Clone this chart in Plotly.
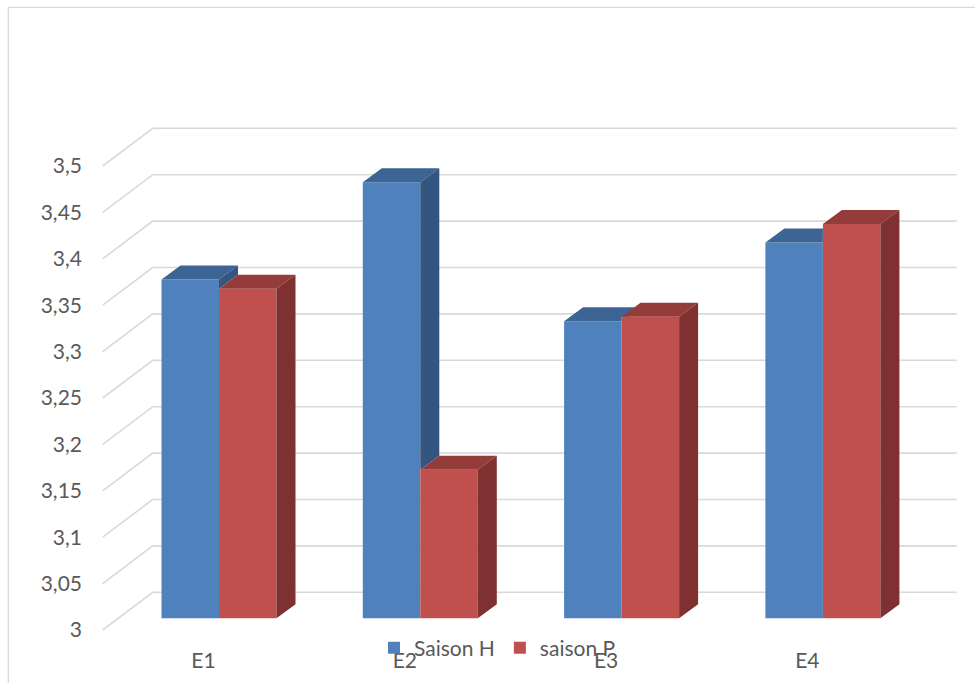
import plotly.graph_objects as go

# ---- data -------------------------------------------------------------
categories = ["E1", "E2", "E3", "E4"]
saison_h = [3.365, 3.47, 3.32, 3.405]
saison_p = [3.355, 3.16, 3.325, 3.425]
series_names = ["Saison H", "saison P"]
tick_values = [3.0, 3.05, 3.1, 3.15, 3.2, 3.25, 3.3, 3.35, 3.4, 3.45, 3.5]
tick_labels = ["3", "3,05", "3,1", "3,15", "3,2", "3,25", "3,3", "3,35", "3,4", "3,45", "3,5"]
AXIS_MIN = 3.0

# ---- geometry of the oblique 3-D view (pixels) ------------------------
W, H = 975, 683
CAT_PX = 201.3          # distance between category groups
CAT0_PX = 219.0         # x of first group centre on the bar plane
Y_PX = 928.0            # pixels per value unit
BASE_PX = 618.3         # y of the axis minimum on the bar plane
BAR_W_PX = 57.5
DEPTH_DX, DEPTH_DY = 19.0, 14.0       # bar thickness (oblique offset)
FRONT_X, FRONT_Y = 102.7, 630.0       # front edge of the floor at the minimum
BACK_X, BACK_Y = 152.7, 592.3         # back wall at the minimum
GRID_END_X = 956.7
LABEL_SHIFT_PX = -15.5                # category labels sit on the front plane

x_rng = [-CAT0_PX / CAT_PX, (W - CAT0_PX) / CAT_PX]
y_lo = AXIS_MIN - (H - BASE_PX) / Y_PX
y_rng = [y_lo, y_lo + H / Y_PX]


def px_to_x(px):
    return (px - CAT0_PX) / CAT_PX


w = BAR_W_PX / CAT_PX
ddx = DEPTH_DX / CAT_PX
ddy = DEPTH_DY / Y_PX
front_dv = (FRONT_Y - BASE_PX) / Y_PX     # front plane sits lower
back_dv = (BASE_PX - BACK_Y) / Y_PX       # back wall sits higher

BLUE, BLUE_TOP, BLUE_SIDE = "#4F81BD", "#3C6494", "#34557F"
RED, RED_TOP, RED_SIDE = "#C0504D", "#943C3A", "#7E3130"
GRID = "#D9D9D9"
TXT = "#595959"

fig = go.Figure()

# front faces
fig.add_trace(go.Bar(x=list(range(len(categories))), y=[v - AXIS_MIN for v in saison_h],
                     base=AXIS_MIN, offset=-w, width=w, name=series_names[0],
                     marker=dict(color=BLUE, line=dict(width=0)),
                     customdata=categories, hovertemplate="%{customdata}: %{base}+%{y}<extra></extra>"))
fig.add_trace(go.Bar(x=list(range(len(categories))), y=[v - AXIS_MIN for v in saison_p],
                     base=AXIS_MIN, offset=0, width=w, name=series_names[1],
                     marker=dict(color=RED, line=dict(width=0)),
                     customdata=categories, hovertemplate="%{customdata}: %{base}+%{y}<extra></extra>"))

# top and side faces, clipped where the neighbouring bar hides them
bt_x, bt_y, bs_x, bs_y = [], [], [], []
rt_x, rt_y, rs_x, rs_y = [], [], [], []
for i, (vb, vr) in enumerate(zip(saison_h, saison_p)):
    xl, xm, xr = i - w, i, i + w
    c = min(max(vr, vb), vb + ddy)
    bt_x += [xl, xl + ddx, xm + ddx, xm + (c - vb) / ddy * ddx, xm, xm, None]
    bt_y += [vb, vb + ddy, vb + ddy, c, c, vb, None]
    if vb > vr:
        bs_x += [xm, xm, xm + ddx, xm + ddx, None]
        bs_y += [vr, vb, vb + ddy, vr + ddy, None]
    rt_x += [xm, xm + ddx, xr + ddx, xr, None]
    rt_y += [vr, vr + ddy, vr + ddy, vr, None]
    rs_x += [xr, xr, xr + ddx, xr + ddx, None]
    rs_y += [AXIS_MIN, vr, vr + ddy, AXIS_MIN + ddy, None]

for xs, ys, col in [(bt_x, bt_y, BLUE_TOP), (bs_x, bs_y, BLUE_SIDE),
                    (rt_x, rt_y, RED_TOP), (rs_x, rs_y, RED_SIDE)]:
    if xs:
        fig.add_trace(go.Scatter(x=xs, y=ys, mode="lines", fill="toself", fillcolor=col,
                                 line=dict(width=0, color=col), showlegend=False,
                                 hoverinfo="skip"))

# carrier trace for the label axes
fig.add_trace(go.Scatter(x=[None], y=[None], xaxis="x2", yaxis="y2", showlegend=False,
                         hoverinfo="skip"))

# back wall gridlines with their floor diagonals
shapes = []
for t in tick_values:
    path = "M {:.5f},{:.5f} L {:.5f},{:.5f} L {:.5f},{:.5f}".format(
        px_to_x(FRONT_X), t - front_dv, px_to_x(BACK_X), t + back_dv,
        px_to_x(GRID_END_X), t + back_dv)
    shapes.append(dict(type="path", path=path, xref="x", yref="y", layer="below",
                       line=dict(color=GRID, width=1.6)))

# chart area border
shapes.append(dict(type="rect", xref="paper", yref="paper", x0=8.3 / W, x1=1.05,
                   y0=-0.05, y1=1 - 7.3 / H, line=dict(color=GRID, width=1.3),
                   layer="above"))

lbl_dx = LABEL_SHIFT_PX / CAT_PX
fig.update_layout(
    width=W, height=H, margin=dict(l=0, r=0, t=0, b=0),
    paper_bgcolor="white", plot_bgcolor="white", barmode="overlay",
    font=dict(family="Lato", size=21, color=TXT),
    xaxis=dict(range=x_rng, visible=False, domain=[0, 1]),
    yaxis=dict(range=y_rng, visible=False, domain=[0, 1]),
    xaxis2=dict(overlaying="x", anchor="free", position=37 / H, side="bottom",
                range=[x_rng[0] - lbl_dx, x_rng[1] - lbl_dx],
                tickmode="array", tickvals=list(range(len(categories))), ticktext=categories,
                showgrid=False, zeroline=False, showline=False, ticks="",
                tickfont=dict(family="Lato", size=21, color=TXT)),
    yaxis2=dict(overlaying="y", anchor="free", position=82 / W, side="left",
                range=[y_rng[0] + front_dv, y_rng[1] + front_dv],
                tickmode="array", tickvals=tick_values, ticktext=tick_labels,
                showgrid=False, zeroline=False, showline=False, ticks="",
                tickfont=dict(family="Lato", size=21, color=TXT)),
    legend=dict(orientation="h", x=374 / W, xanchor="left", y=35 / H, yanchor="middle",
                bgcolor="rgba(0,0,0,0)", font=dict(family="Lato", size=21, color=TXT)),
    shapes=shapes,
    showlegend=True,
)

fig.write_html("out.html")
